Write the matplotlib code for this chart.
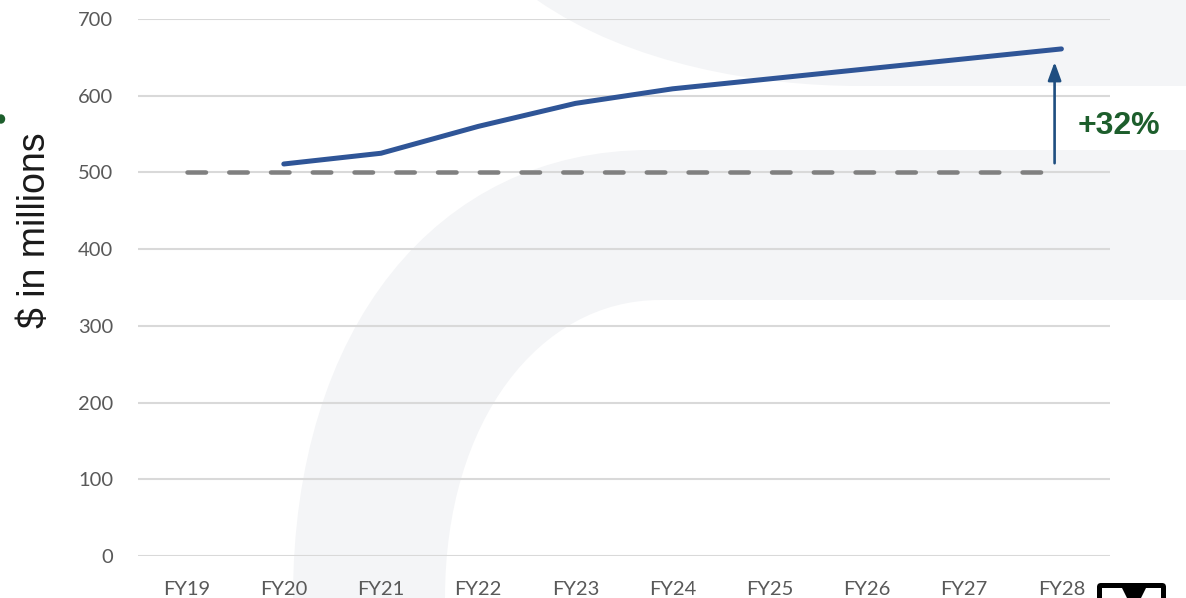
import numpy as np
import matplotlib.pyplot as plt
from matplotlib.path import Path
from matplotlib.patches import PathPatch, FancyBboxPatch, Polygon, Ellipse

# categories and values
years = ['FY19', 'FY20', 'FY21', 'FY22', 'FY23', 'FY24', 'FY25', 'FY26', 'FY27', 'FY28']
revenue = [None, 511, 525, 560, 590, 609, 622, 635, 648, 661]
baseline = [500] * len(years)
growth_label = '+32%'

W, H = 1186, 598
fig = plt.figure(figsize=(W / 100, H / 100), dpi=100)

# background watermark, in pixel coords
bg = fig.add_axes([0, 0, 1, 1], zorder=0)
bg.set_xlim(0, W)
bg.set_ylim(H, 0)
bg.axis('off')
wm = '#F4F5F7'

top = Path([(537, 0), (630, 65), (760, 86), (860, 86), (W, 86), (W, 0), (537, 0)],
           [Path.MOVETO, Path.CURVE4, Path.CURVE4, Path.CURVE4, Path.LINETO, Path.LINETO, Path.CLOSEPOLY])
bg.add_patch(PathPatch(top, fc=wm, ec='none'))

band = Path([(W, 150), (650, 150), (436, 150), (293, 329), (293, 598),
             (445, 598), (445, 420), (540, 300), (660, 300), (W, 300), (W, 150)],
            [Path.MOVETO, Path.LINETO, Path.CURVE4, Path.CURVE4, Path.CURVE4,
             Path.LINETO, Path.CURVE4, Path.CURVE4, Path.CURVE4, Path.LINETO, Path.CLOSEPOLY])
bg.add_patch(PathPatch(band, fc=wm, ec='none'))

# cut-off bits at the edges
bg.add_patch(Ellipse((1, 119), 7, 8, color='#1D5E2C'))
bg.add_patch(FancyBboxPatch((1097, 583), 69, 30, boxstyle='round,pad=0,rounding_size=4',
                            fc='black', ec='none'))
bg.add_patch(FancyBboxPatch((1102, 588), 59, 30, boxstyle='square,pad=0', fc='white', ec='none'))
bg.add_patch(Polygon([(1122, 588), (1146, 588), (1140, 600), (1128, 600)], closed=True,
                     fc='black', ec='none'))

# main chart
ax = fig.add_axes([138 / W, 1 - 556 / H, (1110 - 138) / W, (556 - 19) / H], zorder=1)
ax.patch.set_alpha(0)
x = np.arange(len(years))

ax.plot(x, baseline, color='#808080', lw=3.25, dashes=(4.1, 5.15),
        dash_capstyle='round', zorder=3)
ax.plot(x[1:], revenue[1:], color='#2F5597', lw=3.6, solid_capstyle='round',
        solid_joinstyle='round', zorder=4)

ax.annotate('', xy=(x[-1] - 0.07, 644), xytext=(x[-1] - 0.07, 512),
            arrowprops=dict(arrowstyle='-|>,head_length=1.1,head_width=0.4',
                            color='#1F4E80', lw=1.9, shrinkA=0, shrinkB=0))
ax.text(x[-1] + 0.17, 561, growth_label, color='#1D5E2C', fontsize=23,
        fontweight='bold', family='Liberation Sans', va='center', ha='left')

ax.set_xlim(-0.5, 9.5)
ax.set_ylim(0, 700)
ax.set_yticks(range(0, 701, 100))
ax.set_xticks(x)
ax.set_xticklabels(years)
ax.grid(axis='y', color='#D9D9D9', lw=1.5)
ax.set_axisbelow(True)
for s in ax.spines.values():
    s.set_visible(False)
ax.tick_params(length=0, labelsize=14.5, labelcolor='#595959', pad=18)
ax.tick_params(axis='y', pad=18)
for lab in ax.get_xticklabels() + ax.get_yticklabels():
    lab.set_family('Lato')

fig.text(35 / W, 1 - 230 / H, '$ in millions', rotation=90, fontsize=27,
         family='Liberation Sans', color='#1A1A1A', ha='center', va='center')

fig.savefig('out.png', dpi=100)
